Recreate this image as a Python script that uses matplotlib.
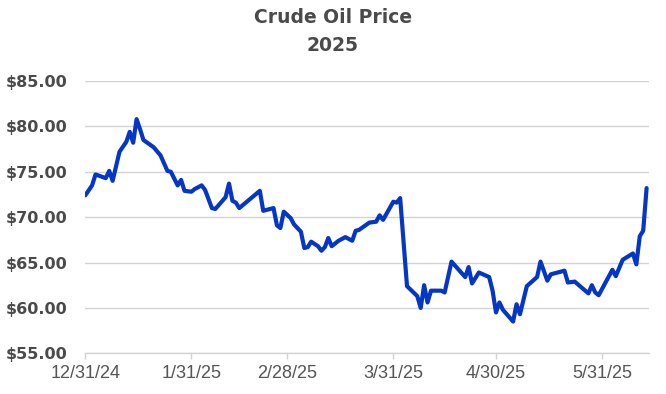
import matplotlib
matplotlib.use("Agg")
import matplotlib.pyplot as plt
import matplotlib.dates as mdates
import pandas as pd

# offsets in days from 12/31/24
day_offsets = [0, 2, 3, 6, 7, 8, 10, 12, 13, 14, 15, 16, 17, 20, 22, 24, 25, 27, 28, 29,
               31, 32, 34, 35, 37, 38, 41, 42, 43, 44, 45, 51, 52, 55, 56, 57, 58, 60, 61, 63,
               64, 65, 66, 68, 69, 70, 71, 72, 74, 76, 78, 79, 80, 83, 85, 86, 87, 90, 91, 92,
               94, 97, 98, 99, 100, 101, 104, 105, 107, 111, 112, 113, 115, 118, 119, 120, 121, 122, 125, 126,
               127, 129, 132, 133, 135, 136, 140, 141, 143, 147, 148, 149, 150, 154, 155, 157, 160, 161, 162, 163,
               164]
prices = [72.4, 73.5, 74.7, 74.3, 75.1, 74.0, 77.2, 78.3, 79.4, 78.2, 80.8, 79.7, 78.5, 77.7, 76.8, 75.1, 75.0, 73.5, 74.1, 72.9,
          72.8, 73.1, 73.5, 73.0, 71.0, 70.9, 72.2, 73.7, 71.8, 71.6, 71.0, 72.9, 70.7, 71.0, 69.1, 68.8, 70.6, 69.9, 69.2, 68.4,
          66.6, 66.7, 67.3, 66.8, 66.3, 66.7, 67.7, 66.8, 67.4, 67.8, 67.4, 68.5, 68.6, 69.4, 69.5, 70.2, 69.7, 71.7, 71.6, 72.1,
          62.4, 61.3, 60.0, 62.5, 60.6, 61.9, 61.9, 61.7, 65.1, 63.4, 64.5, 62.7, 63.9, 63.4, 61.9, 59.5, 60.6, 59.8, 58.5, 60.4,
          59.3, 62.4, 63.4, 65.1, 63.0, 63.7, 64.1, 62.8, 62.9, 61.6, 62.5, 61.7, 61.4, 64.2, 63.5, 65.3, 66.0, 64.8, 67.9, 68.5,
          73.2]
tick_dates = ["2024-12-31", "2025-01-31", "2025-02-28", "2025-03-31", "2025-04-30", "2025-05-31"]
y_ticks = [55, 60, 65, 70, 75, 80, 85]

start = pd.Timestamp("2024-12-31")
dates = [start + pd.Timedelta(days=d) for d in day_offsets]

fig = plt.figure(figsize=(6.66, 3.94), dpi=100)
ax = fig.add_axes([0.128, 0.1033, 0.847, 0.6911])

ax.plot(dates, prices, color="#0536c4", linewidth=3, solid_joinstyle="round", solid_capstyle="round")

ax.set_ylim(55, 85)
ax.set_yticks(y_ticks)
ax.set_yticklabels([f"${v:.2f}" for v in y_ticks], fontweight="bold", fontsize=11.5, color="#4a4a4a",
                   family="DejaVu Sans")
ax.set_xlim(start, start + pd.Timedelta(days=164.8))
ticks = pd.to_datetime(tick_dates)
ax.set_xticks(ticks)
ax.set_xticklabels([f"{t.month}/{t.day}/{t.strftime('%y')}" for t in ticks], fontsize=13, color="#555555",
                   family="Liberation Sans")

ax.grid(axis="y", color="#d3d3d3", linewidth=1)
ax.set_axisbelow(True)
for s in ["top", "right", "left"]:
    ax.spines[s].set_visible(False)
ax.spines["bottom"].set_color("#d3d3d3")
ax.spines["bottom"].set_linewidth(1)
ax.tick_params(axis="y", length=0, pad=12.5)
ax.tick_params(axis="x", length=4.5, width=1, color="#d3d3d3", pad=4)

fig.text(0.5, 0.955, "Crude Oil Price", ha="center", va="center", fontsize=13.5, fontweight="bold",
         color="#4a4a4a", family="DejaVu Sans")
fig.text(0.5, 0.885, "2025", ha="center", va="center", fontsize=13.5, fontweight="bold",
         color="#4a4a4a", family="DejaVu Sans")

fig.savefig("out.png", dpi=100)
